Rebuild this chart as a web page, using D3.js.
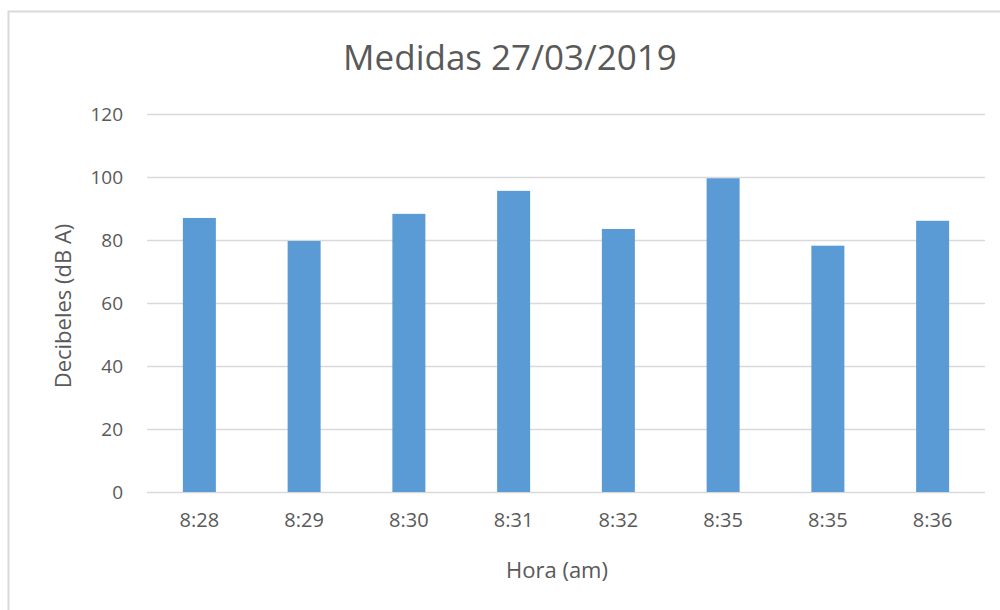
<!DOCTYPE html>
<html>
<head>
<meta charset="utf-8">
<script src="https://cdn.jsdelivr.net/npm/d3@7"></script>
<style>
  body { margin: 0; background: #fff; }
  text { font-family: "Open Sans", sans-serif; fill: #595959; }
</style>
</head>
<body>
<div id="chart"></div>
<script>
// data
const horas = ["8:28", "8:29", "8:30", "8:31", "8:32", "8:35", "8:35", "8:36"];
const decibeles = [87, 79.7, 88.3, 95.6, 83.5, 99.6, 78.2, 86.1];
const yTicks = [0, 20, 40, 60, 80, 100, 120];

const width = 1000, height = 610;
const margin = {left: 147, right: 15, top: 114, bottom: 118};

const svg = d3.select("#chart")
    .append("svg")
    .attr("width", width)
    .attr("height", height);

// chart frame
svg.append("rect")
    .attr("x", 8.5)
    .attr("y", 11.5)
    .attr("width", width + 20)
    .attr("height", height + 20)
    .style("fill", "none")
    .style("stroke", "#d9d9d9")
    .style("stroke-width", "2px");

const xScale = d3.scaleBand()
    .domain(d3.range(horas.length))
    .range([margin.left, width - margin.right])
    .paddingInner(0.685)
    .paddingOuter(0.3425);

const yScale = d3.scaleLinear()
    .domain([0, 120])
    .range([height - margin.bottom, margin.top]);

// gridlines
svg.selectAll(".grid")
    .data(yTicks)
    .join("line")
    .classed("grid", true)
    .attr("x1", margin.left)
    .attr("x2", width - margin.right)
    .attr("y1", d => Math.round(yScale(d)) + 0.5)
    .attr("y2", d => Math.round(yScale(d)) + 0.5)
    .style("stroke", "#d9d9d9")
    .style("stroke-width", "1.5px");

// y axis labels
const yAxis = d3.axisLeft(yScale).tickValues(yTicks).tickSize(0).tickPadding(24);
svg.append("g")
    .attr("transform", `translate(${margin.left},0)`)
    .call(yAxis)
    .call(g => g.select(".domain").remove())
    .call(g => g.selectAll("text")
        .attr("font-size", "19px")
        .style("font-family", "'Open Sans', sans-serif")
        .style("fill", "#595959"));

// bars
svg.selectAll(".bar")
    .data(decibeles)
    .join("rect")
    .classed("bar", true)
    .attr("x", (d, i) => xScale(i))
    .attr("width", xScale.bandwidth())
    .attr("y", d => yScale(d))
    .attr("height", d => yScale(0) - yScale(d))
    .style("fill", "#5b9bd5");

// x axis labels
const xAxis = d3.axisBottom(xScale).tickFormat(i => horas[i]).tickSize(0).tickPadding(21);
svg.append("g")
    .attr("transform", `translate(0,${yScale(0)})`)
    .call(xAxis)
    .call(g => g.select(".domain").remove())
    .call(g => g.selectAll("text")
        .attr("font-size", "20px")
        .style("font-family", "'Open Sans', sans-serif")
        .style("fill", "#595959"));

// title
svg.append("text")
    .attr("x", 510)
    .attr("y", 70)
    .attr("text-anchor", "middle")
    .attr("font-size", "35px")
    .text("Medidas 27/03/2019");

// axis titles
svg.append("text")
    .attr("x", 557)
    .attr("y", 578)
    .attr("text-anchor", "middle")
    .attr("font-size", "22px")
    .text("Hora (am)");

svg.append("text")
    .attr("transform", `translate(71,${(yScale(0) + yScale(120)) / 2 + 3}) rotate(-90)`)
    .attr("text-anchor", "middle")
    .attr("font-size", "22px")
    .text("Decibeles (dB A)");
</script>
</body>
</html>
